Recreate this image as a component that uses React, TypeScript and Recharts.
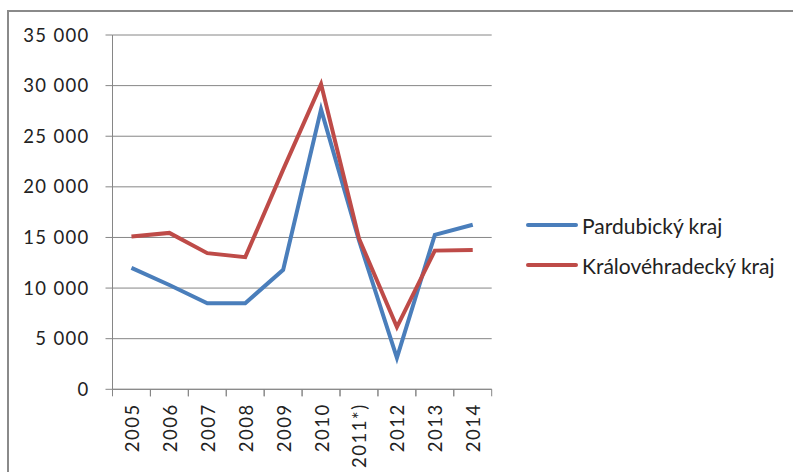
import React from 'react';
import { LineChart, Line, XAxis, YAxis, CartesianGrid, Legend } from 'recharts';

const years = ['2005', '2006', '2007', '2008', '2009', '2010', '2011*)', '2012', '2013', '2014'];
const pardubicky = [12000, 10300, 8500, 8500, 11800, 27650, 14700, 3100, 15250, 16250];
const kralovehradecky = [15100, 15450, 13450, 13050, 21700, 30150, 14900, 6150, 13700, 13750];
const yTicks = [0, 5000, 10000, 15000, 20000, 25000, 30000, 35000];
const seriesNames = ['Pardubický kraj', 'Královéhradecký kraj'];
const seriesColors = ['#4A7EBB', '#BE4B48'];

const data = years.map((y, i) => ({ year: y, p: pardubicky[i], k: kralovehradecky[i] }));

const FONT = 'Lato, "Open Sans", sans-serif';
const GRID = '#868686';
const TEXT = '#222';
const W = 793;
const H = 472;
const AXIS_Y = 389.3;
const M = { top: 35, right: 301.3, bottom: 0, left: 12.5 };
const YW = 100;
const BAND = (W - M.left - YW - M.right) / years.length;

const fmt = (n: number) =>
  n >= 1000 ? `${Math.floor(n / 1000)} ${String(n % 1000).padStart(3, '0')}` : String(n);

const XTick = (props: any) => {
  const { x, payload } = props;
  const half = BAND / 2;
  const ty = AXIS_Y + 14;
  return (
    <g>
      <line x1={x - half} y1={AXIS_Y} x2={x - half} y2={AXIS_Y + 7} stroke={GRID} strokeWidth={1} />
      <line x1={x + half} y1={AXIS_Y} x2={x + half} y2={AXIS_Y + 7} stroke={GRID} strokeWidth={1} />
      <text
        x={x + 1}
        y={ty}
        transform={`rotate(-90, ${x + 1}, ${ty})`}
        textAnchor="end"
        dy="0.35em"
        fontFamily={FONT}
        fontSize={18.5}
        letterSpacing={1.5}
        fill={TEXT}
      >
        {payload.value}
      </text>
    </g>
  );
};

const LegendContent = () => (
  <div style={{ fontFamily: FONT, fontSize: 21, color: TEXT }}>
    {seriesNames.map((n, i) => (
      <div key={n} style={{ display: 'flex', alignItems: 'center', height: 40 }}>
        <svg width={52} height={6} style={{ display: 'block' }}>
          <line x1={2} y1={3} x2={50} y2={3} stroke={seriesColors[i]} strokeWidth={4} strokeLinecap="round" />
        </svg>
        <span style={{ marginLeft: 4, whiteSpace: 'nowrap' }}>{n}</span>
      </div>
    ))}
  </div>
);

export default function App() {
  return (
    <div style={{ position: 'absolute', left: 0, top: 0, width: W, height: H, overflow: 'hidden', background: '#fff' }}>
      <div
        style={{
          position: 'absolute',
          left: 7,
          top: 10,
          width: 900,
          height: 600,
          border: '2px solid #8a8a8a',
          boxSizing: 'border-box',
        }}
      />
      <div style={{ position: 'absolute', left: 0, top: 0 }}>
        <LineChart width={W} height={H} data={data} margin={M}>
          <CartesianGrid vertical={false} stroke={GRID} strokeWidth={1} />
          <XAxis
            dataKey="year"
            scale="band"
            height={H - AXIS_Y - M.bottom}
            interval={0}
            tickSize={0}
            tickLine={false}
            axisLine={{ stroke: GRID, strokeWidth: 1 }}
            tick={<XTick />}
          />
          <YAxis
            width={YW}
            domain={[0, 35000]}
            ticks={yTicks}
            interval={0}
            tickFormatter={fmt}
            tickSize={7}
            tickMargin={16}
            tickLine={{ stroke: GRID }}
            axisLine={{ stroke: GRID, strokeWidth: 1 }}
            tick={{ fontFamily: FONT, fontSize: 18.5, fill: TEXT, letterSpacing: 1.3 }}
          />
          <Legend
            layout="vertical"
            align="center"
            verticalAlign="middle"
            wrapperStyle={{ left: 526, top: 205, width: 267 }}
            content={<LegendContent />}
          />
          <Line
            type="linear"
            dataKey="p"
            name={seriesNames[0]}
            stroke={seriesColors[0]}
            strokeWidth={4}
            dot={false}
            activeDot={false}
            isAnimationActive={false}
          />
          <Line
            type="linear"
            dataKey="k"
            name={seriesNames[1]}
            stroke={seriesColors[1]}
            strokeWidth={4}
            dot={false}
            activeDot={false}
            isAnimationActive={false}
          />
        </LineChart>
      </div>
    </div>
  );
}
